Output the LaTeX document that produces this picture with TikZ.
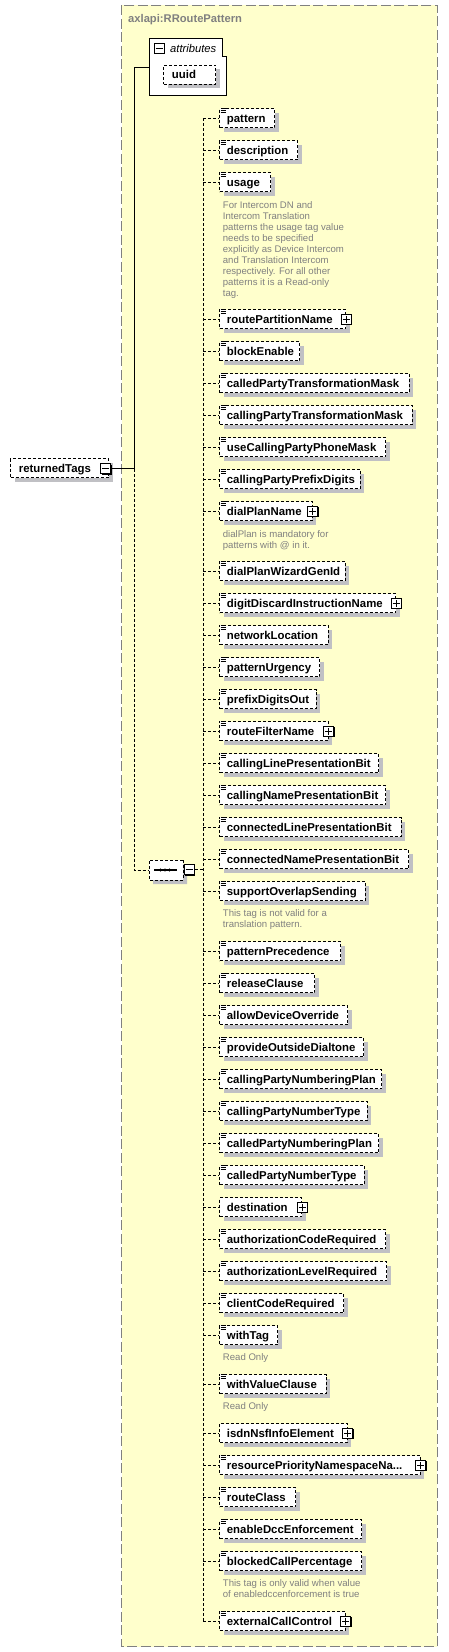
\documentclass[tikz,border=0pt]{standalone}
\usepackage{fontspec}
\setmainfont{Liberation Sans}
\usetikzlibrary{shapes.misc,shadows}
\definecolor{bgyellow}{HTML}{FFFFCC}
\definecolor{framegray}{HTML}{808080}
\definecolor{shadowgray}{HTML}{C0C0C4}
\definecolor{notegray}{HTML}{808080}
\tikzset{
  elembox/.style={draw=black, line width=1pt, dash pattern=on 3pt off 2pt, fill=white,
    minimum height=19pt, inner sep=0pt, anchor=west,
    drop shadow={fill=shadowgray, opacity=1, shadow xshift=4pt, shadow yshift=-4pt}},
  elemtext/.style={anchor=base west, inner sep=0pt, font=\bfseries\fontsize{11.4}{13}\selectfont},
  note/.style={anchor=north west, inner sep=0pt, align=left, text=notegray, font=\fontsize{9.6}{11}\selectfont},
  conn/.style={line width=1pt, dash pattern=on 3pt off 2pt},
  solidconn/.style={line width=1pt},
  pmbox/.style={draw=black, line width=1pt, fill=white, minimum size=10pt, inner sep=0pt,
    drop shadow={fill=black, opacity=1, shadow xshift=1pt, shadow yshift=-1pt}},
  plusbox/.style={pmbox, path picture={
    \draw[line width=1pt] ([xshift=-3.5pt]path picture bounding box.center) -- ([xshift=3.5pt]path picture bounding box.center)
      ([yshift=-3.5pt]path picture bounding box.center) -- ([yshift=3.5pt]path picture bounding box.center);}},
  minusbox/.style={pmbox, path picture={
    \draw[line width=1pt] ([xshift=-3.5pt]path picture bounding box.center) -- ([xshift=3.5pt]path picture bounding box.center);}},
  seqbox/.style={chamfered rectangle, chamfered rectangle xsep=5pt, chamfered rectangle ysep=5pt,
    draw=black, line width=1pt, dash pattern=on 3pt off 2pt, fill=white,
    minimum width=34pt, minimum height=20pt, inner sep=0pt,
    drop shadow={fill=shadowgray, opacity=1, shadow xshift=4pt, shadow yshift=-4pt}},
}
\newcommand\kid[4]{%
  \pgfmathsetmacro\kidw{#3-219}%
  \node[elembox, minimum width=\kidw pt] (#1) at (219,#2) {};
  \node[elemtext] (#1t) at (226.7,#2+4) {#4};
  \draw[conn] (spine |- #1.west) -- (#1.west);
}
\newcommand\icon[1]{%
  \fill[white, shift={(#1.north west)}] (1,-0.5) rectangle (7,4.5);
  \draw[line width=0.8pt, shift={(#1.north west)}] (1.5,0.3) -- (6.5,0.3) (1.5,2.1) -- (6.5,2.1) (1.5,3.9) -- (6.5,3.9);
}
\newcommand\plus[1]{\node[plusbox] (#1p) at (#1.east) {};}
\begin{document}
\begin{tikzpicture}[x=1pt, y=-1pt]
\useasboundingbox (0,0) rectangle (448,1652);
% container
\draw[draw=framegray, fill=bgyellow, line width=1.2pt, dash pattern=on 10pt off 3.5pt] (121.5,5.3) rectangle (437.3,1646.7);
\node[anchor=base west, inner sep=0pt, text=framegray, font=\bfseries\fontsize{11.2}{13}\selectfont] (title) at (128,22.3) {axlapi:RRoutePattern};
% attributes
\draw[line width=1pt, fill=white] (149.3,38.3) -- (222.3,38.3) -- (222.3,56.7) -- (226.7,56.7) -- (226.7,95.3) -- (149.3,95.3) -- cycle;
\coordinate (attrw) at (149.3,67.5);
\node[minusbox] (attrminus) at (159,48) {};
\node[anchor=base west, inner sep=0pt, font=\itshape\fontsize{11.2}{13}\selectfont] (attrt) at (170,52) {attributes};
\node[elembox, minimum width=52pt] (uuid) at (163,74.5) {};
\node[elemtext] (uuidt) at (171.7,78.5) {uuid};
% returnedTags
\node[elembox, minimum width=98pt] (rt) at (10,468) {};
\node[elemtext] (rtt) at (18.7,472) {returnedTags};
\node[minusbox] (rtminus) at (105.5,468.5) {};
\coordinate (trunk) at (134,468.5);
\draw[solidconn] (rtminus.east) -- (trunk) -- (trunk |- attrw) -- (attrw);
% sequence
\node[seqbox] (seq) at (166,870) {};
\draw[line width=1.2pt] (154,870) -- (177,870);
\foreach \dx in {160.5,165,169.5} \fill (\dx,870) circle (1.7);
\node[minusbox] (seqminus) at (189,869.5) {};
\draw[conn] (trunk) -- (trunk |- seq.west) -- (seq.west);
\coordinate (spine) at (203,0);
\draw[conn] (seqminus.east) -- (spine |- seqminus.east);
\draw[conn] (203,118) -- (203,1621);
% children
\kid{c1}{118}{274}{pattern}
\kid{c2}{150}{297}{description}
\kid{c3}{182}{270}{usage}
\kid{c4}{319}{345}{routePartitionName}
\kid{c5}{351}{299}{blockEnable}
\kid{c6}{383}{408.7}{calledPartyTransformationMask}
\kid{c7}{415}{411.7}{callingPartyTransformationMask}
\kid{c8}{447}{385}{useCallingPartyPhoneMask}
\kid{c9}{479}{359.7}{callingPartyPrefixDigits}
\kid{c10}{511}{311.7}{dialPlanName}
\kid{c11}{571}{344.7}{dialPlanWizardGenId}
\kid{c12}{603}{395}{digitDiscardInstructionName}
\kid{c13}{635}{327.7}{networkLocation}
\kid{c14}{667}{319}{patternUrgency}
\kid{c15}{699}{315.7}{prefixDigitsOut}
\kid{c16}{731}{327.7}{routeFilterName}
\kid{c17}{763}{378}{callingLinePresentationBit}
\kid{c18}{795}{385}{callingNamePresentationBit}
\kid{c19}{827}{400.7}{connectedLinePresentationBit}
\kid{c20}{859}{408}{connectedNamePresentationBit}
\kid{c21}{891}{364.7}{supportOverlapSending}
\kid{c22}{951}{340}{patternPrecedence}
\kid{c23}{983}{314}{releaseClause}
\kid{c24}{1015}{347}{allowDeviceOverride}
\kid{c25}{1047}{363}{provideOutsideDialtone}
\kid{c26}{1079}{381}{callingPartyNumberingPlan}
\kid{c27}{1111}{366.7}{callingPartyNumberType}
\kid{c28}{1143}{378}{calledPartyNumberingPlan}
\kid{c29}{1175}{363.7}{calledPartyNumberType}
\kid{c30}{1207}{301}{destination}
\kid{c31}{1239}{385}{authorizationCodeRequired}
\kid{c32}{1271}{386}{authorizationLevelRequired}
\kid{c33}{1303}{343}{clientCodeRequired}
\kid{c34}{1335}{277}{withTag}
\kid{c35}{1384}{325.7}{withValueClause}
\kid{c36}{1433}{346.7}{isdnNsfInfoElement}
\kid{c37}{1465}{419.7}{resourcePriorityNamespaceNa...}
\kid{c38}{1497}{295}{routeClass}
\kid{c39}{1529}{361}{enableDccEnforcement}
\kid{c40}{1561}{361}{blockedCallPercentage}
\kid{c41}{1621}{344.7}{externalCallControl}
% icons
\foreach \n in {c1,c2,c3,c4,c5,c6,c7,c8,c9,c10,c11,c12,c13,c14,c15,c16,c17,c18,c19,c20,c21,c22,c23,c24,c25,c26,c27,c28,c29,c31,c32,c33,c34,c35,c37,c38,c39,c40,c41} {\icon{\n}}
% plus boxes
\plus{c4}\plus{c10}\plus{c12}\plus{c16}\plus{c30}\plus{c36}\plus{c37}\plus{c41}
% notes
\node[note] (n1) at (222.7,201) {For Intercom DN and\\Intercom Translation\\patterns the usage tag value\\needs to be specified\\explicitly as Device Intercom\\and Translation Intercom\\respectively. For all other\\patterns it is a Read-only\\tag.};
\node[note] (n2) at (222.7,530) {dialPlan is mandatory for\\patterns with @ in it.};
\node[note] (n3) at (222.7,909.7) {This tag is not valid for a\\translation pattern.};
\node[note] (n4) at (222.7,1353.7) {Read Only};
\node[note] (n5) at (222.7,1402.7) {Read Only};
\node[note] (n6) at (222.7,1579.7) {This tag is only valid when value\\of enabledccenforcement is true};
\end{tikzpicture}
\end{document}
